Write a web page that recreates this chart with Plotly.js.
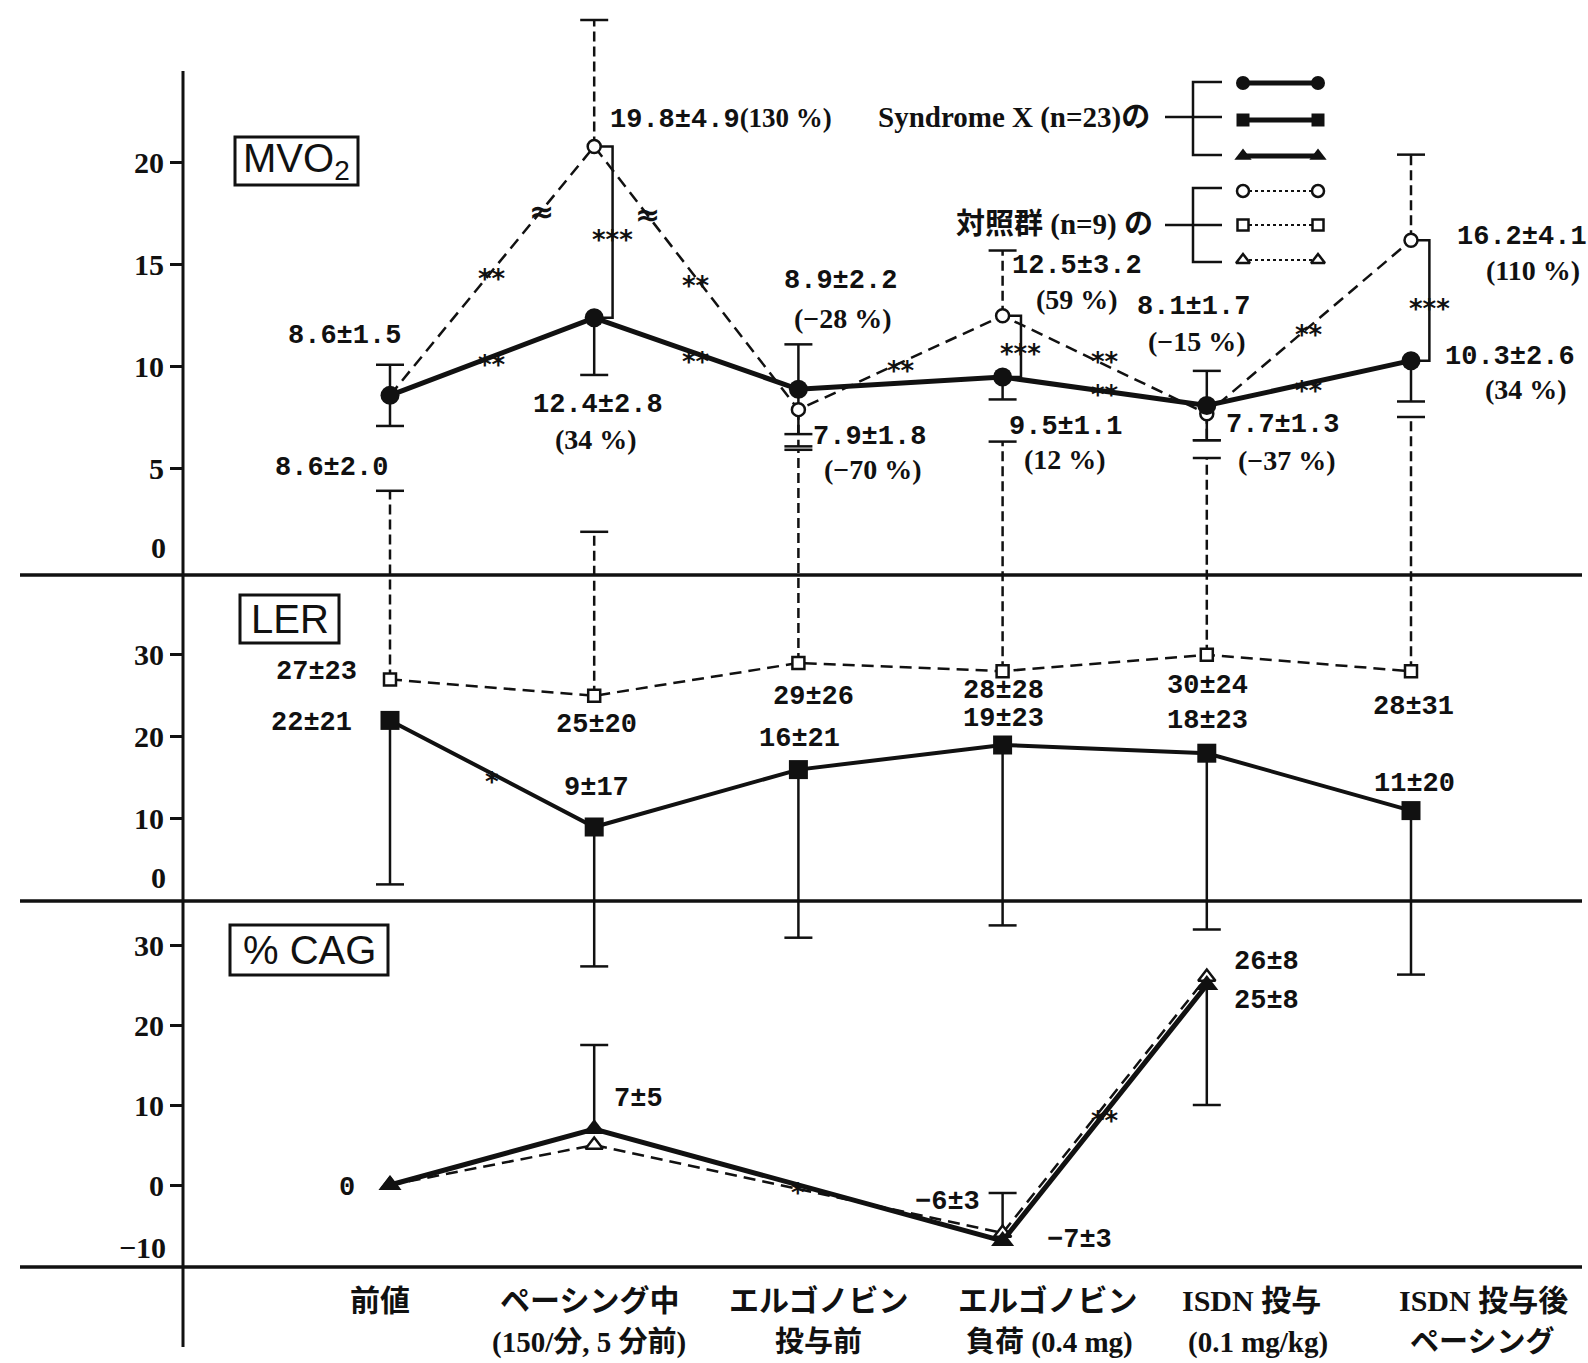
<!DOCTYPE html>
<html><head><meta charset="utf-8">
<script src="https://cdn.plot.ly/plotly-3.0.1.min.js"></script>
<style>html,body{margin:0;padding:0;background:#fff;}#chart{width:1588px;height:1363px;}</style>
</head><body><div id="chart"></div>
<script>
// ---------------- DATA ----------------
const xLabelLine1 = ['前値', 'ペーシング中', 'エルゴノビン', 'エルゴノビン', 'ISDN 投与', 'ISDN 投与後'];
const xLabelLine2 = ['', '(150/分, 5 分前)', '投与前', '負荷 (0.4 mg)', '(0.1 mg/kg)', 'ペーシング'];

// MVO2 – Syndrome X
const mvoSX      = [8.6, 12.4, 8.9, 9.5, 8.1, 10.3];
const mvoSXsd    = [1.5, 2.8, 2.2, 1.1, 1.7, 2.6];
const mvoSXpct   = [null, 34, -28, 12, -15, 34];
const mvoSXerrUp = [1.5, null, 2.2, null, 1.7, null];
const mvoSXerrDn = [1.5, 2.8, 2.2, 1.1, 1.7, 2.0];
// MVO2 – control (drawn heights; pacing point sits on a broken scale)
const mvoCtl      = [8.6, 20.8, 7.9, 12.5, 7.7, 16.2];
const mvoCtlMean  = [8.6, 19.8, 7.9, 12.5, 7.7, 16.2];
const mvoCtlSd    = [2.0, 4.9, 1.8, 3.2, 1.3, 4.1];
const mvoCtlPct   = [null, 130, -70, 59, -37, 110];
const mvoCtlErrUp = [null, 6.2, null, 3.2, null, 4.2];
const mvoCtlErrDn = [null, null, 1.8, null, 1.3, null];
// significance marks
const mvoCtlSegSig = ['**', '**', '**', '**', '**'];
const mvoSXSegSig  = ['**', '**', '', '**', '**'];
const mvoGroupSig  = [null, '***', null, '***', null, '***'];

// LER
const lerSX      = [22, 9, 16, 19, 18, 11];
const lerSXsd    = [21, 17, 21, 23, 23, 20];
const lerSXerrDn = [20, 17, 20.5, 22, 21.5, 20];
const lerCtl     = [27, 25, 29, 28, 30, 28];
const lerCtlSd   = [23, 20, 26, 28, 24, 31];
const lerSXSegSig = ['*', '', '', '', ''];

// %CAG
const cagSX      = [0, 7, null, -7, 25, null];
const cagSXsd    = [null, 5, null, 3, 8, null];
const cagSXerrUp = [null, 10.5, null, 6, null, null];
const cagSXerrDn = [null, null, null, null, 15, null];
const cagCtl     = [0, 5, null, -6, 26, null];
const cagCtlSd   = [null, null, null, 3, 8, null];
const cagSXSegSig = ['', '*', '**'];   // along the connected points

// ---------------- LAYOUT HELPERS ----------------
const W = 1588, H = 1363;
const M = {l: 183, r: 0, t: 8, b: 16};
const PW = W - M.l - M.r, PH = H - M.t - M.b;
const pX = p => (p - M.l) / PW;
const pY = p => (H - M.b - p) / PH;
const TOPPX = M.t, BOTPX = H - M.b;
// axis calibrations: value -> pixel
const xCal = {p0: 390, k: 204.2};
const mvoCal = {p0: 570.8, k: 20.4};
const lerCal = {p0: 900.8, k: 8.2};
const cagCal = {p0: 1185, k: 8.0};
const yRange = c => [(c.p0 - BOTPX) / c.k, (c.p0 - TOPPX) / c.k];
const xRange = [(M.l - xCal.p0) / xCal.k, (W - M.r - xCal.p0) / xCal.k];

const BLACK = '#111';
const NUMFONT = {family: '"Liberation Mono", "DejaVu Sans Mono", monospace', size: 27, color: BLACK, weight: 'bold'};
const PCTFONT = {family: '"Liberation Serif", serif', size: 28, color: BLACK, weight: 'bold'};
const TICKFONT = {family: '"Liberation Serif", serif', size: 30, color: BLACK, weight: 'bold'};
const JPFONT = {family: '"Liberation Serif", "Noto Sans CJK JP", serif', size: 30, color: BLACK, weight: 'bold'};
const JPFONT2 = Object.assign({}, JPFONT, {size: 29});
const STARFONT = {family: '"DejaVu Sans", sans-serif', size: 26, color: BLACK, weight: 'bold'};
const CTLDASH = '12px,7px';

const fmt = (v, d) => { const s = Math.abs(v).toFixed(d); return v < 0 ? '\u2212' + s : s; };
const pct = v => '(' + fmt(v, 0) + ' %)';

const traces = [];
function whiskers(vals, up, dn, yaxis, dash, width) {
  const xs = [], ys = [], cx = [], cy = [];
  vals.forEach((v, i) => {
    if (v == null) return;
    if (up && up[i] != null) { xs.push(i, i, null); ys.push(v, v + up[i], null); cx.push(i); cy.push(v + up[i]); }
    if (dn && dn[i] != null) { xs.push(i, i, null); ys.push(v, v - dn[i], null); cx.push(i); cy.push(v - dn[i]); }
  });
  traces.push({type: 'scatter', mode: 'lines', x: xs, y: ys, yaxis, line: {color: BLACK, width, dash}, hoverinfo: 'skip', showlegend: false});
  traces.push({type: 'scatter', mode: 'markers', x: cx, y: cy, yaxis, marker: {symbol: 'line-ew', size: 20, color: BLACK, line: {color: BLACK, width: 2.5}}, hoverinfo: 'skip', showlegend: false});
}
function series(vals, yaxis, opt) {
  traces.push({type: 'scatter', mode: 'lines+markers', x: vals.map((_, i) => i), y: vals, yaxis,
    connectgaps: true, cliponaxis: false, hoverinfo: 'skip', showlegend: false,
    line: {color: BLACK, width: opt.lw, dash: opt.dash || 'solid'},
    marker: {symbol: opt.sym, size: opt.size, color: opt.fill, line: {color: BLACK, width: opt.mlw || 0}}});
}

// error whiskers (drawn first)
whiskers(mvoCtl, mvoCtlErrUp, mvoCtlErrDn, 'y', '10px,5px', 2.5);
whiskers(lerCtl, lerCtlSd, null, 'y2', '10px,5px', 2.5);
whiskers(mvoSX, mvoSXerrUp, mvoSXerrDn, 'y', 'solid', 2.5);
whiskers(lerSX, null, lerSXerrDn, 'y2', 'solid', 2.5);
whiskers(cagSX, cagSXerrUp, cagSXerrDn, 'y3', 'solid', 2.5);

// significance brackets between groups (MVO2)
const BR_DX = 0.09;
(function () {
  const xs = [], ys = [];
  mvoGroupSig.forEach((s, i) => {
    if (!s) return;
    xs.push(i, i + BR_DX, i + BR_DX, i, null);
    ys.push(mvoCtl[i], mvoCtl[i], mvoSX[i], mvoSX[i], null);
  });
  traces.push({type: 'scatter', mode: 'lines', x: xs, y: ys, yaxis: 'y', line: {color: BLACK, width: 2.5}, hoverinfo: 'skip', showlegend: false});
})();

// control series
series(mvoCtl, 'y', {lw: 2.5, dash: CTLDASH, sym: 'circle', size: 13, fill: '#fff', mlw: 2.5});
series(lerCtl, 'y2', {lw: 2.5, dash: CTLDASH, sym: 'square', size: 12, fill: '#fff', mlw: 2.5});
series(cagCtl, 'y3', {lw: 2.5, dash: CTLDASH, sym: 'triangle-up', size: 15, fill: '#fff', mlw: 2.5});
// Syndrome X series
series(mvoSX, 'y', {lw: 5, sym: 'circle', size: 19, fill: BLACK});
series(lerSX, 'y2', {lw: 4, sym: 'square', size: 19, fill: BLACK});
series(cagSX, 'y3', {lw: 5, sym: 'triangle-up', size: 20, fill: BLACK});

// ---------------- LEGEND (own hidden axes, pixel-like units) ----------------
const legRowsSX = [{y: 83, sym: 'circle', size: 14}, {y: 120, sym: 'square', size: 13}, {y: 156, sym: 'triangle-up', size: 15}];
const legRowsCtl = [{y: 191, sym: 'circle', size: 12}, {y: 225, sym: 'square', size: 11}, {y: 260, sym: 'triangle-up', size: 12}];
legRowsSX.forEach(r => traces.push({type: 'scatter', mode: 'lines+markers', x: [1243, 1318], y: [r.y, r.y], xaxis: 'x2', yaxis: 'y4',
  line: {color: BLACK, width: 5}, marker: {symbol: r.sym, size: r.size, color: BLACK}, hoverinfo: 'skip', showlegend: false}));
legRowsCtl.forEach(r => traces.push({type: 'scatter', mode: 'lines+markers', x: [1243, 1318], y: [r.y, r.y], xaxis: 'x2', yaxis: 'y4',
  line: {color: BLACK, width: 2, dash: '3px,3px'}, marker: {symbol: r.sym, size: r.size, color: '#fff', line: {color: BLACK, width: 2.5}}, hoverinfo: 'skip', showlegend: false}));
[[82, 117, 155], [188, 225, 262]].forEach(b => traces.push({type: 'scatter', mode: 'lines', xaxis: 'x2', yaxis: 'y4',
  x: [1222, 1193, 1193, 1222, null, 1165, 1222], y: [b[0], b[0], b[2], b[2], null, b[1], b[1]],
  line: {color: BLACK, width: 2.5}, hoverinfo: 'skip', showlegend: false}));

// ---------------- ANNOTATIONS ----------------
const ann = [];
function lab(text, i, v, yref, dx, dy, xanchor, font) {
  ann.push({text, x: i, y: v, xref: 'x', yref, xshift: dx, yshift: -dy, xanchor: xanchor || 'center', yanchor: 'middle',
    showarrow: false, font: font || NUMFONT});
}
// MVO2 labels
const mvoSXPos = [[13, -59, 'right'], [4, 87], [42, -108], [63, 50], [-13, -99], [99, -4]];
const mvoSXPctPos = [null, [2, 122], [45, -71], [62, 82], [-10, -64], [115, 29]];
mvoSX.forEach((v, i) => {
  const p = mvoSXPos[i];
  lab(fmt(v, 1) + '±' + fmt(mvoSXsd[i], 1), i, v, 'y', p[0], p[1], p[2]);
  if (mvoSXpct[i] != null) { const q = mvoSXPctPos[i]; lab(pct(mvoSXpct[i]), i, v, 'y', q[0], q[1], 'center', PCTFONT); }
});
const mvoCtlPos = [[0, 73, 'right'], [14, -27, 'left'], [71, 27], [74, -50], [76, 11], [111, -3]];
const mvoCtlPctPos = [null, null, [75, 60], [74, -16], [80, 47], [122, 30]];
mvoCtl.forEach((v, i) => {
  const p = mvoCtlPos[i];
  let t = fmt(mvoCtlMean[i], 1) + '±' + fmt(mvoCtlSd[i], 1);
  if (i === 1) t += '<span style="font-family:Liberation Serif">' + pct(mvoCtlPct[i]) + '</span>';
  lab(t, i, v, 'y', p[0], p[1], p[2]);
  if (mvoCtlPctPos[i]) { const q = mvoCtlPctPos[i]; lab(pct(mvoCtlPct[i]), i, v, 'y', q[0], q[1], 'center', PCTFONT); }
});
// LER labels
const lerCtlPos = [[-74, -7], [2, 29], [15, 34], [1, 20], [1, 31], [2, 36]];
const lerSXPos = [[-79, 3], [2, -39], [1, -31], [1, -26], [1, -32], [3, -27]];
lerCtl.forEach((v, i) => lab(v + '±' + lerCtlSd[i], i, v, 'y2', lerCtlPos[i][0], lerCtlPos[i][1]));
lerSX.forEach((v, i) => lab(v + '±' + lerSXsd[i], i, v, 'y2', lerSXPos[i][0], lerSXPos[i][1]));
// CAG labels
const cagSXPos = [[-43, 3], [44, -30], null, [77, -1], [60, 16], null];
const cagCtlPos = [null, null, null, [-55, -31], [60, -15], null];
cagSX.forEach((v, i) => {
  if (v == null || !cagSXPos[i]) return;
  const t = cagSXsd[i] == null ? fmt(v, 0) : fmt(v, 0) + '±' + cagSXsd[i];
  lab(t, i, v, 'y3', cagSXPos[i][0], cagSXPos[i][1]);
});
cagCtl.forEach((v, i) => {
  if (v == null || !cagCtlPos[i]) return;
  lab(fmt(v, 0) + '±' + cagCtlSd[i], i, v, 'y3', cagCtlPos[i][0], cagCtlPos[i][1]);
});

// significance stars
function star(text, x, y, yref, ys) {
  ann.push({text, x, y, xref: 'x', yref, yshift: -8 + (ys || 0), showarrow: false, font: STARFONT});
}
mvoCtlSegSig.forEach((s, i) => { if (s) star(s, i + 0.5, (mvoCtl[i] + mvoCtl[i + 1]) / 2, 'y', i === 3 ? 11 : 0); });
mvoSXSegSig.forEach((s, i) => { if (s) star(s, i + 0.5, (mvoSX[i] + mvoSX[i + 1]) / 2, 'y', i === 3 ? 4 : 0); });
mvoGroupSig.forEach((s, i) => { if (s) star(s, i + BR_DX, (mvoCtl[i] + mvoSX[i]) / 2, 'y'); });
lerSXSegSig.forEach((s, i) => { if (s) star(s, i + 0.5, (lerSX[i] + lerSX[i + 1]) / 2, 'y2'); });
(function () {
  const idx = cagSX.map((v, i) => v == null ? null : i).filter(i => i != null);
  cagSXSegSig.forEach((s, k) => {
    if (!s) return;
    const a = idx[k], b = idx[k + 1];
    star(s, (a + b) / 2, (cagSX[a] + cagSX[b]) / 2, 'y3');
  });
})();
// axis-break marks on control MVO2 line
[[0, 0.74], [1, 0.26]].forEach(([sgm, t]) => {
  ann.push({text: '≈', x: sgm + t, y: mvoCtl[sgm] + (mvoCtl[sgm + 1] - mvoCtl[sgm]) * t, xref: 'x', yref: 'y',
    showarrow: false, font: {family: '"DejaVu Sans", sans-serif', size: 30, color: BLACK, weight: 'bold'}});
});

// x category labels
const xLabShift1 = [-10, -5, 20, 45, 45, 72];
const xLabShift2 = [0, -5, 20, 47, 51, 71];
xLabelLine1.forEach((t, i) => {
  ann.push({text: t, x: i, xref: 'x', y: pY(1300), yref: 'paper', xshift: xLabShift1[i], xanchor: 'center', yanchor: 'middle', showarrow: false, font: JPFONT});
  if (xLabelLine2[i]) ann.push({text: xLabelLine2[i], x: i, xref: 'x', y: pY(1342), yref: 'paper', xshift: xLabShift2[i], xanchor: 'center', yanchor: 'middle', showarrow: false, font: JPFONT2});
});

// tick labels drawn without tick at panel bottoms
[['0', 0, 'y', 23], ['0', 0, 'y2', 23], ['\u221210', -10, 'y3', 18]].forEach(([t, v, yr, sh]) => {
  ann.push({text: t, x: 0, xref: 'paper', xanchor: 'right', xshift: -15, y: v, yref: yr, yshift: sh, yanchor: 'middle', showarrow: false, font: TICKFONT});
});

// panel titles in boxes
const boxes = [
  {text: 'MVO<sub>2</sub>', x0: 235, x1: 358, y0: 137, y1: 185},
  {text: 'LER', x0: 240, x1: 339, y0: 595, y1: 643},
  {text: '% CAG', x0: 230, x1: 388, y0: 925, y1: 975}
];
const shapes = [];
boxes.forEach(b => {
  shapes.push({type: 'rect', xref: 'paper', yref: 'paper', x0: pX(b.x0), x1: pX(b.x1), y0: pY(b.y1), y1: pY(b.y0), line: {color: BLACK, width: 3}});
  ann.push({text: b.text, xref: 'paper', yref: 'paper', x: pX((b.x0 + b.x1) / 2), y: pY((b.y0 + b.y1) / 2), xanchor: 'center', yanchor: 'middle', showarrow: false,
    font: {family: '"Liberation Sans", Arial, sans-serif', size: 40, color: BLACK}});
});
// legend texts
ann.push({text: 'Syndrome X (n=23)の', xref: 'x2', yref: 'y4', x: 1152, y: 117, xanchor: 'right', yanchor: 'middle', showarrow: false,
  font: {family: '"Liberation Serif", "Noto Sans CJK JP", serif', size: 29, color: BLACK, weight: 'bold'}});
ann.push({text: '対照群 (n=9) の', xref: 'x2', yref: 'y4', x: 1155, y: 224, xanchor: 'right', yanchor: 'middle', showarrow: false,
  font: {family: '"Liberation Serif", "Noto Sans CJK JP", serif', size: 29, color: BLACK, weight: 'bold'}});

// panel separators and vertical axis line
[575, 901, 1267].forEach(p => shapes.push({type: 'line', xref: 'paper', yref: 'paper', x0: pX(20), x1: pX(1582), y0: pY(p), y1: pY(p), line: {color: BLACK, width: 3.5}}));
shapes.push({type: 'line', xref: 'paper', yref: 'paper', x0: 0, x1: 0, y0: pY(1347), y1: pY(71), line: {color: BLACK, width: 3}});

const yCommon = {domain: [0, 1], showgrid: false, zeroline: false, showline: false, ticks: 'outside', ticklen: 12, tickwidth: 3,
  tickcolor: BLACK, tickfont: TICKFONT, autorange: false, fixedrange: true};
const layout = {
  width: W, height: H, margin: M, paper_bgcolor: '#fff', plot_bgcolor: 'rgba(0,0,0,0)', showlegend: false, hovermode: false,
  xaxis: {range: xRange, autorange: false, showgrid: false, zeroline: false, showline: false, showticklabels: false, ticks: '', fixedrange: true},
  yaxis: Object.assign({}, yCommon, {range: yRange(mvoCal), tickvals: [5, 10, 15, 20], ticktext: ['5', '10', '15', '20']}),
  yaxis2: Object.assign({}, yCommon, {range: yRange(lerCal), tickvals: [10, 20, 30], overlaying: 'y', anchor: 'x'}),
  yaxis3: Object.assign({}, yCommon, {range: yRange(cagCal), tickvals: [0, 10, 20, 30], overlaying: 'y', anchor: 'x'}),
  xaxis2: {domain: [pX(1130), pX(1330)], range: [1130, 1330], autorange: false, visible: false, anchor: 'y4'},
  yaxis4: {domain: [pY(275), pY(70)], range: [275, 70], autorange: false, visible: false, anchor: 'x2'},
  shapes, annotations: ann
};
Plotly.newPlot('chart', traces, layout, {displayModeBar: false, staticPlot: true});
</script></body></html>
